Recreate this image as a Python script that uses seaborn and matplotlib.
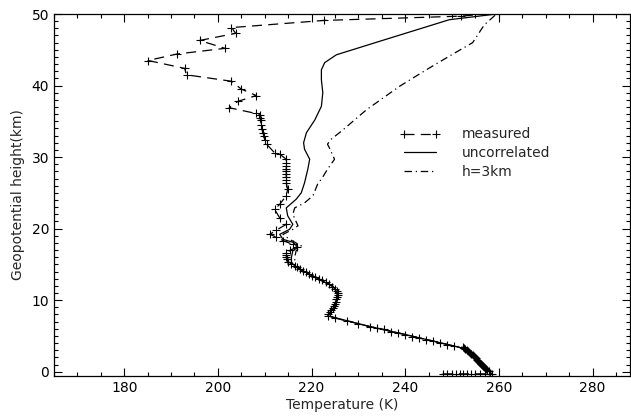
import numpy as np
import matplotlib
matplotlib.use("Agg")
import matplotlib.pyplot as plt
from matplotlib.ticker import MultipleLocator
import seaborn as sns

# measured profile (temperature K, height km)
meas_t = [248.0, 249.0, 250.0, 250.8, 251.6, 252.4, 253.2, 254.0, 255.0, 256.0, 257.0, 258.0, 258.6,
          257.8, 257.5, 257.2, 257.0, 256.8, 256.6, 256.4, 256.2, 256.0, 255.8, 255.5, 255.3,
          255.1, 254.9, 254.6, 254.4, 254.1, 253.9, 253.6, 253.4, 253.1, 252.8, 252.5, 252.3,
          250.5, 249.0, 247.5, 246.0, 244.5, 243.0, 241.5, 240.0, 238.5, 237.0, 235.5, 234.0,
          232.5, 230.0, 227.5, 225.0, 223.5,
          223.6, 223.9, 224.2, 224.5, 224.8, 225.0, 225.2, 225.3, 225.5, 225.6, 225.6, 225.4,
          225.0, 224.4, 223.8, 223.0, 222.2, 221.5, 220.8, 220.2, 219.5, 218.8, 218.1, 217.5,
          216.9, 216.4, 215.6, 215.0, 214.7, 214.6, 214.6, 214.6, 215.5, 216.8, 216.0, 214.0,
          212.5, 211.1, 212.5, 214.6, 213.2, 212.1, 213.2, 214.6, 214.9, 214.6, 214.6, 214.6,
          214.6, 214.6, 214.6, 214.6, 214.6, 214.6, 213.2, 212.1, 210.4, 210.0, 209.8, 209.6,
          209.4, 209.3, 209.1, 208.9, 208.9, 208.1,
          202.4, 204.3, 208.2, 205.0, 202.9, 193.3, 192.9, 185.1, 191.2, 201.5, 196.1,
          203.8, 202.9, 222.6, 252.0, 260.0]
meas_h = [-0.3, -0.3, -0.3, -0.3, -0.3, -0.3, -0.3, -0.3, -0.3, -0.3, -0.3, -0.3, -0.3,
          0.05, 0.2, 0.35, 0.5, 0.65, 0.8, 0.95, 1.1, 1.25, 1.4, 1.55, 1.7,
          1.85, 2.0, 2.15, 2.3, 2.45, 2.6, 2.75, 2.9, 3.05, 3.2, 3.3, 3.4,
          3.6, 3.8, 4.0, 4.3, 4.5, 4.7, 4.9, 5.2, 5.4, 5.6, 5.9, 6.1,
          6.3, 6.7, 7.1, 7.5, 7.8,
          8.0, 8.3, 8.6, 8.9, 9.2, 9.5, 9.8, 10.1, 10.4, 10.7, 11.0, 11.3,
          11.6, 11.9, 12.2, 12.5, 12.8, 13.0, 13.2, 13.4, 13.7, 13.9, 14.1, 14.3,
          14.6, 14.8, 15.1, 15.4, 15.7, 16.0, 16.3, 16.6, 17.0, 17.4, 17.8, 18.3,
          18.8, 19.2, 19.8, 20.6, 21.5, 22.7, 23.4, 24.6, 25.5, 26.4, 26.8, 27.2,
          27.6, 28.0, 28.4, 28.8, 29.2, 29.7, 30.4, 30.6, 31.8, 32.4, 33.0, 33.4,
          33.9, 34.5, 35.2, 35.5, 35.9, 36.1,
          36.9, 37.8, 38.6, 39.5, 40.6, 41.5, 42.4, 43.5, 44.4, 45.2, 46.3,
          47.3, 48.1, 49.1, 49.7, 50.2]

# uncorrelated retrieval
unc_t = [257.5, 256.5, 254.5, 251.6, 240.0, 232.5, 223.5, 224.0, 224.8, 225.4, 225.5, 224.5,
         222.8, 220.2, 217.5, 216.4, 215.7, 215.7, 216.0, 217.1, 216.0, 213.9, 213.2, 215.3,
         216.0, 214.9, 214.6, 216.7, 217.8, 218.5, 219.2, 219.6, 218.5, 218.3, 218.9, 220.7,
         222.1, 222.4, 222.1, 222.1, 222.8, 225.3, 235.6, 249.4, 259.5]
unc_h = [0.0, 0.8, 2.3, 3.4, 5.2, 6.3, 7.8, 8.3, 9.0, 10.0, 11.0, 12.0,
         12.5, 13.4, 14.3, 14.8, 15.3, 16.0, 16.9, 17.4, 18.1, 18.5, 19.2, 19.9,
         20.6, 21.8, 22.9, 24.1, 25.0, 26.4, 28.3, 29.7, 31.1, 32.0, 33.4, 35.2,
         37.1, 39.0, 40.8, 42.2, 43.2, 44.3, 46.4, 49.2, 50.0]

# h=3km retrieval
h3_t = [257.5, 256.5, 254.5, 251.6, 240.0, 232.5, 223.5, 224.0, 224.8, 225.4, 225.5, 224.5,
        222.8, 220.2, 217.5, 216.4, 216.4, 216.7, 217.8, 215.3, 213.9, 216.0, 217.1, 216.0,
        216.4, 218.5, 220.3, 221.4, 222.1, 223.4, 224.9, 223.8, 223.4, 224.2, 226.7, 231.7,
        238.8, 244.5, 249.4, 254.4, 256.9, 259.5]
h3_h = [0.0, 0.8, 2.3, 3.4, 5.2, 6.3, 7.8, 8.3, 9.0, 10.0, 11.0, 12.0,
        12.5, 13.4, 14.3, 14.8, 16.0, 16.9, 17.6, 18.5, 19.2, 19.9, 20.4, 22.0,
        22.9, 23.6, 24.6, 26.4, 26.9, 28.3, 29.7, 31.3, 31.8, 32.5, 33.8, 36.6,
        39.9, 42.2, 44.1, 46.0, 48.5, 50.0]

sns.set_theme(style="ticks")
plt.rcParams['font.family'] = ['DejaVu Sans']
plt.rcParams['font.size'] = 10

fig = plt.figure(figsize=(6.31, 4.18), dpi=100)
ax = fig.add_axes([54 / 631, 42 / 418, 576 / 631, 362 / 418])

sns.lineplot(x=meas_t, y=meas_h, sort=False, estimator=None, ax=ax, color='black',
             linewidth=0.9, linestyle=(0, (8, 5)), marker='+', markersize=5.5,
             markeredgewidth=0.8, markeredgecolor='black', label='measured')
sns.lineplot(x=unc_t, y=unc_h, sort=False, estimator=None, ax=ax, color='black',
             linewidth=0.9, label='uncorrelated')
sns.lineplot(x=h3_t, y=h3_h, sort=False, estimator=None, ax=ax, color='black',
             linewidth=0.9, linestyle=(0, (6, 3, 1, 3)), label='h=3km')

ax.set_xlim(165, 288)
ax.set_ylim(-0.6, 50)
ax.set_xticks([180, 200, 220, 240, 260, 280])
ax.set_yticks([0, 10, 20, 30, 40, 50])
ax.xaxis.set_minor_locator(MultipleLocator(5))
ax.yaxis.set_minor_locator(MultipleLocator(1))
ax.tick_params(which='both', direction='in', top=True, right=True, width=0.8,
               colors='black', labelsize=10)
ax.tick_params(which='major', length=5.5)
ax.tick_params(which='minor', length=3)
for s in ax.spines.values():
    s.set_linewidth(0.9)
    s.set_color('black')

ax.set_xlabel('Temperature (K)', fontsize=10, labelpad=2)
ax.set_ylabel('Geopotential height(km)', fontsize=10, labelpad=5)

ax.legend(loc='upper left', bbox_to_anchor=(0.588, 0.706), frameon=False, numpoints=2,
          handlelength=2.9, handletextpad=1.6, labelspacing=0.35, fontsize=10, borderpad=0)

fig.savefig('out.png', dpi=100)
